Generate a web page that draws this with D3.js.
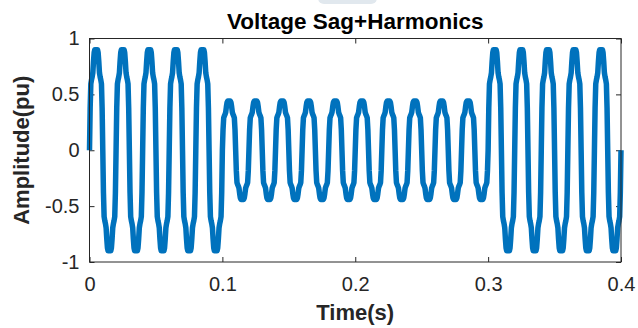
<!DOCTYPE html>
<html>
<head>
<meta charset="utf-8">
<script src="https://cdn.jsdelivr.net/npm/d3@7"></script>
<style>
  html, body { margin: 0; padding: 0; background: #fff; }
  svg { display: block; font-family: "Liberation Sans", Arial, Helvetica, sans-serif; }
</style>
</head>
<body>
<svg width="638" height="328"></svg>
<script>
// tick values
const xTicks = [0, 0.1, 0.2, 0.3, 0.4];
const yTicks = [-1, -0.5, 0, 0.5, 1];

// one 20 ms period of the distorted wave (0.5 ms steps, peak = 1)
const cycleShape = [
  0, 0.42, 0.66, 0.7, 0.73, 0.77, 0.88, 0.97, 1, 1,
  1, 1, 1, 0.97, 0.88, 0.77, 0.73, 0.7, 0.66, 0.42,
  0, -0.42, -0.66, -0.7, -0.73, -0.77, -0.88, -0.97, -1, -1,
  -1, -1, -1, -0.97, -0.88, -0.77, -0.73, -0.7, -0.66, -0.42
];

// normal / sag / normal sections (seconds) and their peak amplitude (pu)
const segStart = [0, 0.1, 0.3];
const segEnd = [0.1, 0.3, 0.4];
const segAmp = [0.9, 0.44, 0.9];

const stepS = 0.0005;

// build the sampled signal from the pieces above
const signal = [];
for (let n = 0; n <= 800; n++) {
  const t = n * stepS;
  let i = segStart.findIndex((s, j) => t >= s && t < segEnd[j]);
  if (i < 0) i = segStart.length - 1;
  signal.push({ t: t, v: segAmp[i] * cycleShape[n % cycleShape.length] });
}

const svg = d3.select('svg');
const margin = { top: 38.5, right: 17, bottom: 66, left: 89.5 };
const width = Number(svg.attr('width'));
const height = Number(svg.attr('height'));
const innerWidth = width - margin.left - margin.right;
const innerHeight = height - margin.top - margin.bottom;

/* ==================================
faint leftover shape at the top edge
================================== */
svg.append('rect')
  .attr('x', 318).attr('y', -8)
  .attr('width', 59).attr('height', 12)
  .attr('rx', 6)
  .style('fill', '#e1e8ee');

const xScale = d3.scaleLinear().domain([0, 0.4]).range([0, innerWidth]);
const yScale = d3.scaleLinear().domain([-1, 1]).range([innerHeight, 0]);

const g = svg.append('g').attr('transform', `translate(${margin.left}, ${margin.top})`);

/* ==================================
Axes, ticks pointing inward on all four sides
================================== */
const fmt = (d) => String(d);
const tickLen = 5;

const xBottom = g.append('g')
  .attr('transform', `translate(0, ${innerHeight})`)
  .call(d3.axisBottom(xScale).tickValues(xTicks).tickFormat(fmt)
    .tickSizeInner(-tickLen).tickSizeOuter(0).tickPadding(15));

const xTop = g.append('g')
  .call(d3.axisTop(xScale).tickValues(xTicks)
    .tickSizeInner(-tickLen).tickSizeOuter(0));

const yLeft = g.append('g')
  .call(d3.axisLeft(yScale).tickValues(yTicks).tickFormat(fmt)
    .tickSizeInner(-tickLen).tickSizeOuter(0).tickPadding(10));

const yRight = g.append('g')
  .attr('transform', `translate(${innerWidth}, 0)`)
  .call(d3.axisRight(yScale).tickValues(yTicks)
    .tickSizeInner(-tickLen).tickSizeOuter(0));

// the mirrored top/right axes only carry tick marks
xTop.selectAll('text').remove();
yRight.selectAll('text').remove();

[xBottom, xTop, yLeft, yRight].forEach((ax) => {
  ax.select('.domain').remove();
  ax.selectAll('line').style('stroke', '#262626').style('stroke-width', 1);
  ax.selectAll('text')
    .style('font-family', '"Liberation Sans", Arial, Helvetica, sans-serif')
    .style('font-size', '20px')
    .style('fill', '#262626');
});

/* ==================================
Signal line
================================== */
const line = d3.line()
  .x((d) => xScale(d.t))
  .y((d) => yScale(d.v));

g.append('path')
  .datum(signal)
  .attr('d', line)
  .style('fill', 'none')
  .style('stroke', '#0072BD')
  .style('stroke-width', 5.5)
  .style('stroke-linejoin', 'round');

// axes box on top of the line
g.append('rect')
  .attr('width', innerWidth)
  .attr('height', innerHeight)
  .style('fill', 'none')
  .style('stroke', '#262626')
  .style('stroke-width', 1);

/* ==================================
Title and axis labels
================================== */
svg.append('text')
  .attr('x', margin.left + innerWidth / 2)
  .attr('y', 29)
  .attr('text-anchor', 'middle')
  .style('font-size', '22.5px')
  .style('font-weight', 'bold')
  .style('fill', '#000')
  .text('Voltage Sag+Harmonics');

svg.append('text')
  .attr('x', margin.left + innerWidth / 2)
  .attr('y', 320)
  .attr('text-anchor', 'middle')
  .style('font-size', '22px')
  .style('font-weight', 'bold')
  .style('fill', '#262626')
  .text('Time(s)');

svg.append('text')
  .attr('transform', `translate(29, ${margin.top + innerHeight / 2}) rotate(-90)`)
  .attr('text-anchor', 'middle')
  .style('font-size', '22px')
  .style('font-weight', 'bold')
  .style('fill', '#262626')
  .text('Amplitude(pu)');
</script>
</body>
</html>
